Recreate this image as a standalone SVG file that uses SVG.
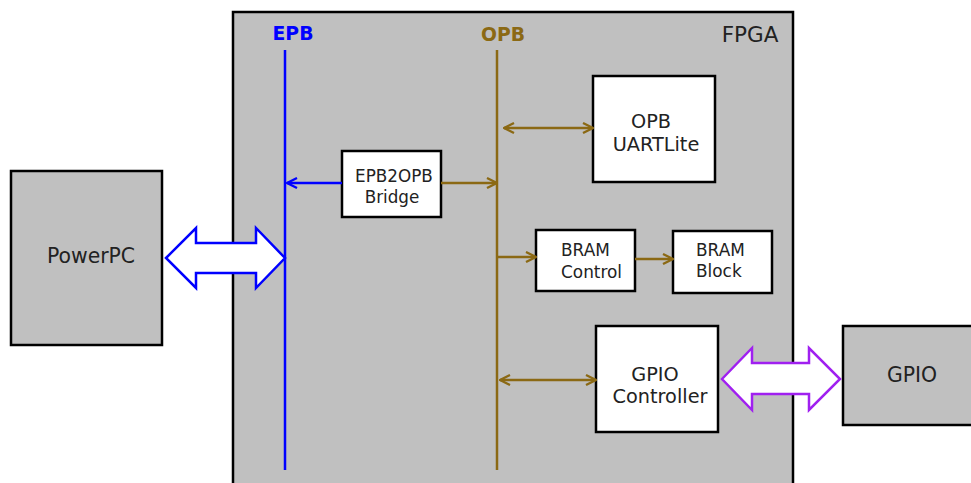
<svg xmlns="http://www.w3.org/2000/svg" width="971" height="483" viewBox="0 0 971 483">
<style>
.gray{fill:#c0c0c0;stroke:#000;stroke-width:2.5}
.box{fill:#fff;stroke:#000;stroke-width:2.5}
text{font-family:"DejaVu Sans","Liberation Sans",sans-serif;fill:#222}
.t14{font-size:16.8px}
.t15{font-size:16.9px}
.t17{font-size:19.3px}
.t18{font-size:20.4px}
.bus{font-size:18.8px;font-weight:bold;text-anchor:middle}
.mid{text-anchor:middle}
.ep{stroke:#0000ff;stroke-width:2.5;fill:none}
.op{stroke:#8b6914;stroke-width:2.5;fill:none}
</style>
<defs>
<marker id="hb" viewBox="0 0 12 12" refX="11" refY="6" markerWidth="12" markerHeight="12" markerUnits="userSpaceOnUse" orient="auto-start-reverse">
<path d="M1,1 L11,6 L1,11" fill="none" stroke="#0000ff" stroke-width="2.3"/>
</marker>
<marker id="ho" viewBox="0 0 12 12" refX="11" refY="6" markerWidth="12" markerHeight="12" markerUnits="userSpaceOnUse" orient="auto-start-reverse">
<path d="M1,1 L11,6 L1,11" fill="none" stroke="#8b6914" stroke-width="2.3"/>
</marker>
</defs>
<rect width="971" height="483" fill="#fff"/>
<g id="fpga">
<rect class="gray" x="233" y="12" width="560" height="480"/>
<text x="750" y="42" text-anchor="middle" style="font-size:21.5px">FPGA</text>
</g>
<g id="epb">
<line class="ep" x1="285" y1="50" x2="285" y2="470"/>
<text class="bus" x="293" y="40" style="fill:#0000ff">EPB</text>
</g>
<g id="opb">
<line class="op" x1="497" y1="50" x2="497" y2="470"/>
<text class="bus" x="503" y="41" style="fill:#8b6914">OPB</text>
</g>
<g id="powerpc">
<rect class="gray" x="11" y="171" width="151" height="174"/>
<text class="t18 mid" x="91" y="263">PowerPC</text>
</g>
<g id="bridge">
<rect class="box" x="342" y="151" width="99" height="66"/>
<text class="t14 mid" x="394" y="182">EPB2OPB</text>
<text class="t14 mid" x="392" y="203">Bridge</text>
</g>
<g id="uartlite">
<rect class="box" x="593" y="76" width="122" height="106"/>
<text class="t17 mid" x="651" y="128">OPB</text>
<text class="t17 mid" x="656" y="151">UARTLite</text>
</g>
<g id="bramctl">
<rect class="box" x="536" y="230" width="99" height="61"/>
<text class="t15" x="561" y="256">BRAM</text>
<text class="t15" x="561" y="278">Control</text>
</g>
<g id="bramblk">
<rect class="box" x="673" y="231" width="99" height="62"/>
<text class="t15" x="696" y="256">BRAM</text>
<text class="t15" x="696" y="277">Block</text>
</g>
<g id="gpioctl">
<rect class="box" x="596" y="326" width="122" height="106"/>
<text class="t17 mid" x="655" y="381">GPIO</text>
<text class="t17 mid" x="660" y="403">Controller</text>
</g>
<g id="gpio">
<rect class="gray" x="843" y="326" width="135" height="99"/>
<text class="t18 mid" x="912" y="382">GPIO</text>
</g>
<g id="connectors">
<path d="M166,258 L196,228 L196,243 L256,243 L256,228 L285,258 L256,288 L256,273 L196,273 L196,288 Z" fill="#fff" stroke="#0000ff" stroke-width="2.5"/>
<path d="M722,379 L752,348 L752,363 L809,363 L809,348 L840,379 L809,410 L809,394 L752,394 L752,410 Z" fill="#fff" stroke="#a020f0" stroke-width="2.5"/>
<line class="ep" x1="342" y1="183" x2="287" y2="183" marker-end="url(#hb)"/>
<line class="op" x1="441" y1="183" x2="497" y2="183" marker-end="url(#ho)"/>
<line class="op" x1="504" y1="128" x2="593" y2="128" marker-start="url(#ho)" marker-end="url(#ho)"/>
<line class="op" x1="497" y1="257" x2="536" y2="257" marker-end="url(#ho)"/>
<line class="op" x1="635" y1="259" x2="673" y2="259" marker-end="url(#ho)"/>
<line class="op" x1="500" y1="380" x2="596" y2="380" marker-start="url(#ho)" marker-end="url(#ho)"/>
</g>
</svg>
